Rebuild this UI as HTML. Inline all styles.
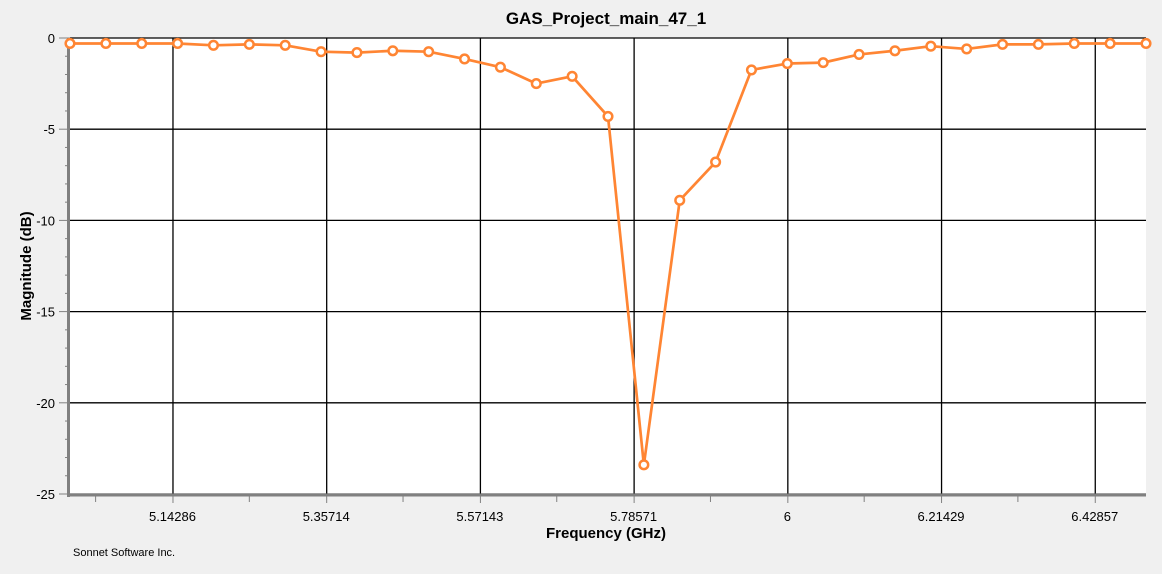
<!DOCTYPE html>
<html><head><meta charset="utf-8"><style>
body{margin:0;background:#f0f0f0;font-family:"Liberation Sans",sans-serif;}
svg{display:block}
</style></head><body>
<svg width="1162" height="574">
<rect width="1162" height="574" fill="#f0f0f0"/>
<text x="606" y="24" text-anchor="middle" font-size="17" font-weight="bold" font-family="Liberation Sans, sans-serif">GAS_Project_main_47_1</text>
<rect x="69" y="38" width="1077" height="456" fill="#fff"/>
<g id="grid"></g>
<g id="axes"></g>
<g id="series"></g>
<text x="606" y="538" text-anchor="middle" font-size="15" font-weight="bold">Frequency (GHz)</text>
<text transform="translate(31,266) rotate(-90)" text-anchor="middle" font-size="15" font-weight="bold">Magnitude (dB)</text>
<text x="73" y="556" font-size="11">Sonnet Software Inc.</text>
</svg>
<script>
const freqs=[5.0,5.05,5.1,5.15,5.2,5.25,5.3,5.35,5.4,5.45,5.5,5.55,5.6,5.65,5.7,5.75,5.8,5.85,5.9,5.95,6.0,6.05,6.1,6.15,6.2,6.25,6.3,6.35,6.4,6.45,6.5];
const mags=[-0.3,-0.3,-0.3,-0.3,-0.4,-0.35,-0.4,-0.75,-0.8,-0.7,-0.75,-1.15,-1.6,-2.5,-2.1,-4.3,-23.4,-8.9,-6.8,-1.75,-1.4,-1.35,-0.9,-0.7,-0.45,-0.6,-0.35,-0.35,-0.3,-0.3,-0.3];
const xTicks=[5.14286,5.35714,5.57143,5.78571,6,6.21429,6.42857];
const xTickLabels=["5.14286","5.35714","5.57143","5.78571","6","6.21429","6.42857"];
const yTicks=[0,-5,-10,-15,-20,-25];
const NS="http://www.w3.org/2000/svg";
const X0=70,X1=1146,Y0=38,Y1=494,XMIN=5.0,XMAX=6.5,YMIN=-25,YMAX=0;
function sx(v){return X0+(v-XMIN)/(XMAX-XMIN)*(X1-X0);}
function sy(v){return Y0+(YMAX-v)/(YMAX-YMIN)*(Y1-Y0);}
function mk(p,tag,a){const e=document.createElementNS(NS,tag);for(const k in a)e.setAttribute(k,a[k]);p.appendChild(e);return e;}
const grid=document.getElementById('grid'),axes=document.getElementById('axes'),ser=document.getElementById('series');
xTicks.forEach((t,i)=>{
 const l=mk(grid,'line',{x1:sx(t)+0.5,x2:sx(t)+0.5,y1:Y0,y2:Y1,stroke:'#000','stroke-width':1.3});
 
 
 const tk=mk(axes,'line',{x1:sx(t)+0.5,x2:sx(t)+0.5,y1:Y1,y2:Y1+9,stroke:'#808080','stroke-width':1});
 
 
 const tx=mk(axes,'text',{x:sx(t),y:Y1+27,'text-anchor':'middle','font-size':13});
 tx.textContent=xTickLabels[i];
 
 
});
for(let t=5.0357;t<6.5;t+=0.214286){
 const m=mk(axes,'line',{x1:sx(t),x2:sx(t),y1:Y1,y2:Y1+8,stroke:'#808080','stroke-width':1});
 
 
}
yTicks.forEach(t=>{
 const l=mk(grid,'line',{x1:X0,x2:X1,y1:sy(t),y2:sy(t),stroke:'#000','stroke-width':1.3});
 
 
 const tk=mk(axes,'line',{x1:X0-11,x2:X0,y1:sy(t),y2:sy(t),stroke:'#808080','stroke-width':1});
 
 
 const tx=mk(axes,'text',{x:X0-15,y:sy(t)+5,'text-anchor':'end','font-size':13});
 tx.textContent=String(t);
 
 
});
for(let v=-1;v>-25;v--){ if(v%5===0)continue;
 const m=mk(axes,'line',{x1:X0-5,x2:X0,y1:sy(v),y2:sy(v),stroke:'#808080','stroke-width':1});
 
 
}
const la=mk(axes,'line',{x1:X0-1.5,x2:X0-1.5,y1:Y0,y2:Y1+3,stroke:'#808080','stroke-width':3});


const ba=mk(axes,'line',{x1:X0-1,x2:X1,y1:Y1+1,y2:Y1+1,stroke:'#808080','stroke-width':3});


const pts=freqs.map((f,i)=>sx(f)+','+sy(mags[i])).join(' ');
const pl=mk(ser,'polyline',{points:pts,fill:'none',stroke:'#ff8533','stroke-width':2.7,'stroke-linejoin':'round'});


freqs.forEach((f,i)=>{
 const c=mk(ser,'circle',{cx:sx(f),cy:sy(mags[i]),r:4.3,fill:'#fff',stroke:'#ff8533','stroke-width':2.5});
 
 
});
</script>
</body></html>
